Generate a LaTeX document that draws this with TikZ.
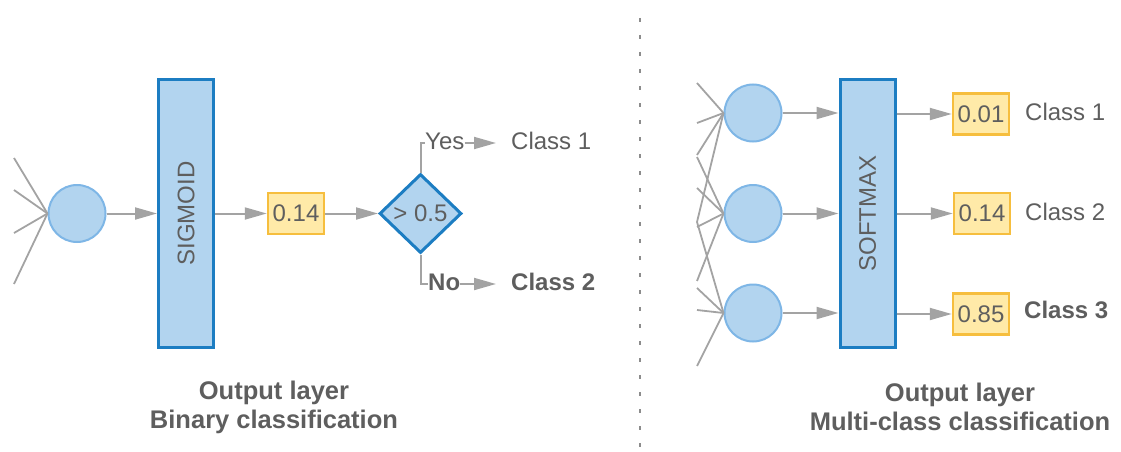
\documentclass[tikz,border=0pt]{standalone}
\usepackage{fontspec}
\setmainfont{Liberation Sans}
\usetikzlibrary{arrows.meta,shapes.geometric}
\definecolor{txtgray}{HTML}{5E5E5E}
\definecolor{linegray}{HTML}{A3A3A3}
\definecolor{dotgray}{HTML}{8C8C8C}
\definecolor{nodefill}{HTML}{B2D4EF}
\definecolor{nodeedge}{HTML}{7EB6E6}
\definecolor{barfill}{HTML}{B2D4EF}
\definecolor{baredge}{HTML}{1C7DC2}
\definecolor{boxfill}{HTML}{FFEAA8}
\definecolor{boxedge}{HTML}{F6BE3E}
\begin{document}
\begin{tikzpicture}[x=1pt,y=-1pt,
  base/.style={font=\fontsize{24}{29}\selectfont, text=txtgray},
  boldbase/.style={font=\fontsize{24}{29}\selectfont\bfseries, text=txtgray},
  txt/.style={base, inner sep=0pt, text height=17pt, text depth=5pt},
  btxt/.style={boldbase, inner sep=0pt, text height=17pt, text depth=5pt},
  conn/.style={draw=linegray, line width=2pt},
  arr/.style={conn, -{Triangle[length=22pt,width=12pt]}},
  inl/.style={draw=linegray, line width=1.8pt},
  neuron/.style={circle, draw=nodeedge, fill=nodefill, line width=2pt, minimum size=57pt, inner sep=0pt},
  bar/.style={rectangle, draw=baredge, fill=barfill, line width=3pt, minimum width=55pt, minimum height=268pt, inner sep=0pt},
  bartext/.style={base, rotate=90, inner sep=0pt},
  valbox/.style={base, rectangle, draw=boxedge, fill=boxfill, line width=2.5pt, minimum width=56pt, minimum height=41pt, inner sep=0pt},
  decision/.style={base, diamond, draw=baredge, fill=barfill, line width=3pt, minimum width=82pt, minimum height=79pt, inner sep=0pt},
  caption/.style={font=\fontsize{25.5}{29}\selectfont\bfseries, text=txtgray, align=center},
  divider/.style={draw=dotgray, line width=2pt, dash pattern=on 4pt off 13pt},
]
\useasboundingbox (0,0) rectangle (1121,452);

% divider
\coordinate (divT) at (640,18);
\coordinate (divB) at (640,449);
\draw[divider] (divT) -- (divB);

% ---------- left: binary ----------
\node[neuron] (c) at (77,213.5) {};
\foreach \y [count=\i] in {158,190,233,284} {
  \coordinate (inL\i) at (14,\y);
  \draw[inl] (inL\i) -- (c.west);
}
\node[bar] (sig) at (186,213.5) {};
\node[bartext] (sigt) at (sig.center) {SIGMOID};
\node[valbox] (v) at (296,213.5) {0.14};
\node[decision] (d) at (420.5,213.5) {> 0.5};
\draw[arr] (c.east) -- (sig.west);
\draw[arr] (sig.east) -- (v.west);
\draw[arr] (v.east) -- (d.west);

\node[txt, anchor=west] (yes) at (425,143) {Yes};
\node[txt, anchor=west] (cl1) at (511,143) {Class 1};
\node[btxt, anchor=west] (no) at (428,284) {No};
\node[btxt, anchor=west] (cl2) at (511,284) {Class 2};
\draw[conn] (d.north) |- (yes.west);
\draw[conn] (d.south) |- (no.west);
\draw[arr, shorten >=15pt] (yes.east) -- (cl1.west);
\draw[arr, shorten >=15pt] (no.east) -- (cl2.west);

\node[caption] (capL) at (274,407) {Output layer\\Binary classification};

% ---------- right: multi-class ----------
\node[neuron] (n1) at (753,113) {};
\node[neuron] (n2) at (753,213.5) {};
\node[neuron] (n3) at (753,313) {};
\foreach \y [count=\i] in {83,123,155,222} {
  \coordinate (inA\i) at (697,\y);
  \draw[inl] (inA\i) -- (n1.west);
}
\foreach \y [count=\i] in {157,188,227,281} {
  \coordinate (inB\i) at (697,\y);
  \draw[inl] (inB\i) -- (n2.west);
}
\foreach \y [count=\i] in {222,288,310,366} {
  \coordinate (inC\i) at (697,\y);
  \draw[inl] (inC\i) -- (n3.west);
}
\node[bar] (sm) at (867.5,213.5) {};
\node[bartext] (smt) at (sm.center) {SOFTMAX};
\draw[arr] (n1.east) -- (n1.east -| sm.west);
\draw[arr] (n2.east) -- (n2.east -| sm.west);
\draw[arr] (n3.east) -- (n3.east -| sm.west);

\node[valbox] (b1) at (981,114) {0.01};
\node[valbox] (b2) at (982,213.5) {0.14};
\node[valbox] (b3) at (981,314) {0.85};
\draw[arr] (sm.east |- b1.west) -- (b1.west);
\draw[arr] (sm.east |- b2.west) -- (b2.west);
\draw[arr] (sm.east |- b3.west) -- (b3.west);

\node[txt, anchor=west] (k1) at (1025,114) {Class 1};
\node[txt, anchor=west] (k2) at (1025,214) {Class 2};
\node[btxt, anchor=west] (k3) at (1024,312) {Class 3};

\node[caption] (capR) at (960,407) {Output layer\\Multi-class classification};
\end{tikzpicture}
\end{document}
